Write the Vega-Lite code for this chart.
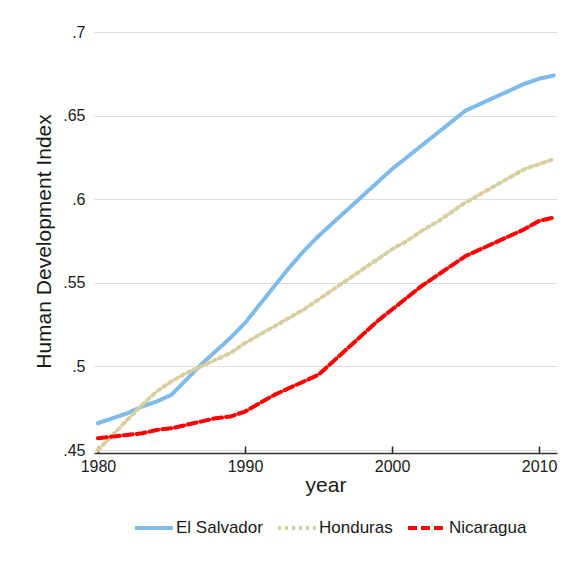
{
  "$schema": "https://vega.github.io/schema/vega-lite/v6.json",
  "width": 463,
  "height": 418,
  "autosize": {"type": "none"},
  "padding": {"left": 94, "top": 32, "right": 13, "bottom": 118},
  "background": "white",
  "config": {
    "view": {"stroke": null},
    "font": "Liberation Sans"
  },
  "data": {
    "values": [
      {"year":1980,"country":"El Salvador","hdi":0.466},{"year":1981,"country":"El Salvador","hdi":0.469},{"year":1982,"country":"El Salvador","hdi":0.472},{"year":1983,"country":"El Salvador","hdi":0.476},{"year":1984,"country":"El Salvador","hdi":0.479},{"year":1985,"country":"El Salvador","hdi":0.483},{"year":1986,"country":"El Salvador","hdi":0.492},{"year":1987,"country":"El Salvador","hdi":0.501},{"year":1988,"country":"El Salvador","hdi":0.509},{"year":1989,"country":"El Salvador","hdi":0.517},{"year":1990,"country":"El Salvador","hdi":0.526},{"year":1991,"country":"El Salvador","hdi":0.537},{"year":1992,"country":"El Salvador","hdi":0.548},{"year":1993,"country":"El Salvador","hdi":0.559},{"year":1994,"country":"El Salvador","hdi":0.569},{"year":1995,"country":"El Salvador","hdi":0.578},{"year":1996,"country":"El Salvador","hdi":0.586},{"year":1997,"country":"El Salvador","hdi":0.594},{"year":1998,"country":"El Salvador","hdi":0.602},{"year":1999,"country":"El Salvador","hdi":0.610},{"year":2000,"country":"El Salvador","hdi":0.618},{"year":2001,"country":"El Salvador","hdi":0.625},{"year":2002,"country":"El Salvador","hdi":0.632},{"year":2003,"country":"El Salvador","hdi":0.639},{"year":2004,"country":"El Salvador","hdi":0.646},{"year":2005,"country":"El Salvador","hdi":0.653},{"year":2006,"country":"El Salvador","hdi":0.657},{"year":2007,"country":"El Salvador","hdi":0.661},{"year":2008,"country":"El Salvador","hdi":0.665},{"year":2009,"country":"El Salvador","hdi":0.669},{"year":2010,"country":"El Salvador","hdi":0.672},{"year":2011,"country":"El Salvador","hdi":0.674},
      {"year":1980,"country":"Honduras","hdi":0.450},{"year":1981,"country":"Honduras","hdi":0.459},{"year":1982,"country":"Honduras","hdi":0.468},{"year":1983,"country":"Honduras","hdi":0.477},{"year":1984,"country":"Honduras","hdi":0.485},{"year":1985,"country":"Honduras","hdi":0.491},{"year":1986,"country":"Honduras","hdi":0.496},{"year":1987,"country":"Honduras","hdi":0.500},{"year":1988,"country":"Honduras","hdi":0.504},{"year":1989,"country":"Honduras","hdi":0.508},{"year":1990,"country":"Honduras","hdi":0.514},{"year":1991,"country":"Honduras","hdi":0.519},{"year":1992,"country":"Honduras","hdi":0.524},{"year":1993,"country":"Honduras","hdi":0.529},{"year":1994,"country":"Honduras","hdi":0.534},{"year":1995,"country":"Honduras","hdi":0.540},{"year":1996,"country":"Honduras","hdi":0.546},{"year":1997,"country":"Honduras","hdi":0.552},{"year":1998,"country":"Honduras","hdi":0.558},{"year":1999,"country":"Honduras","hdi":0.564},{"year":2000,"country":"Honduras","hdi":0.570},{"year":2001,"country":"Honduras","hdi":0.575},{"year":2002,"country":"Honduras","hdi":0.581},{"year":2003,"country":"Honduras","hdi":0.586},{"year":2004,"country":"Honduras","hdi":0.592},{"year":2005,"country":"Honduras","hdi":0.598},{"year":2006,"country":"Honduras","hdi":0.603},{"year":2007,"country":"Honduras","hdi":0.608},{"year":2008,"country":"Honduras","hdi":0.613},{"year":2009,"country":"Honduras","hdi":0.618},{"year":2010,"country":"Honduras","hdi":0.621},{"year":2011,"country":"Honduras","hdi":0.624},
      {"year":1980,"country":"Nicaragua","hdi":0.457},{"year":1981,"country":"Nicaragua","hdi":0.458},{"year":1982,"country":"Nicaragua","hdi":0.459},{"year":1983,"country":"Nicaragua","hdi":0.460},{"year":1984,"country":"Nicaragua","hdi":0.462},{"year":1985,"country":"Nicaragua","hdi":0.463},{"year":1986,"country":"Nicaragua","hdi":0.465},{"year":1987,"country":"Nicaragua","hdi":0.467},{"year":1988,"country":"Nicaragua","hdi":0.469},{"year":1989,"country":"Nicaragua","hdi":0.470},{"year":1990,"country":"Nicaragua","hdi":0.473},{"year":1991,"country":"Nicaragua","hdi":0.478},{"year":1992,"country":"Nicaragua","hdi":0.483},{"year":1993,"country":"Nicaragua","hdi":0.487},{"year":1994,"country":"Nicaragua","hdi":0.491},{"year":1995,"country":"Nicaragua","hdi":0.495},{"year":1996,"country":"Nicaragua","hdi":0.503},{"year":1997,"country":"Nicaragua","hdi":0.511},{"year":1998,"country":"Nicaragua","hdi":0.519},{"year":1999,"country":"Nicaragua","hdi":0.527},{"year":2000,"country":"Nicaragua","hdi":0.534},{"year":2001,"country":"Nicaragua","hdi":0.541},{"year":2002,"country":"Nicaragua","hdi":0.548},{"year":2003,"country":"Nicaragua","hdi":0.554},{"year":2004,"country":"Nicaragua","hdi":0.560},{"year":2005,"country":"Nicaragua","hdi":0.566},{"year":2006,"country":"Nicaragua","hdi":0.570},{"year":2007,"country":"Nicaragua","hdi":0.574},{"year":2008,"country":"Nicaragua","hdi":0.578},{"year":2009,"country":"Nicaragua","hdi":0.582},{"year":2010,"country":"Nicaragua","hdi":0.587},{"year":2011,"country":"Nicaragua","hdi":0.589}
    ]
  },
  "mark": {"type": "line", "strokeWidth": 4, "strokeCap": "round"},
  "encoding": {
    "x": {
      "field": "year", "type": "quantitative",
      "scale": {"domain": [1979.73, 2011.22], "nice": false, "zero": false},
      "axis": {
        "values": [1980, 1990, 2000, 2010],
        "format": "d",
        "grid": false,
        "offset": 3,
        "domainColor": "#333333",
        "domainWidth": 1.5,
        "ticks": true,
        "tickColor": "#222222",
        "tickSize": -7,
        "tickWidth": 1.5,
        "labelPadding": 12,
        "labelFontSize": 16,
        "labelColor": "#1a1a1a",
        "labelFont": "Liberation Sans",
        "title": "year",
        "titleFontSize": 21,
        "titleFontWeight": "normal",
        "titleColor": "#1a1a1a",
        "titlePadding": 0,
        "titleFont": "Liberation Sans"
      }
    },
    "y": {
      "field": "hdi", "type": "quantitative",
      "scale": {"domain": [0.45, 0.7], "nice": false, "zero": false},
      "axis": {
        "values": [0.45, 0.5, 0.55, 0.6, 0.65, 0.7],
        "labelExpr": "replace(format(datum.value, '.2~f'), '0.', '.')",
        "domain": false,
        "ticks": false,
        "grid": true,
        "gridColor": "#dddddd",
        "gridWidth": 1.2,
        "labelPadding": 9,
        "labelFontSize": 16,
        "labelColor": "#1a1a1a",
        "labelFont": "Liberation Sans",
        "title": "Human Development Index",
        "titleFontSize": 21,
        "titleFontWeight": "normal",
        "titleColor": "#1a1a1a",
        "titlePadding": 8,
        "titleFont": "Liberation Sans"
      }
    },
    "color": {
      "field": "country", "type": "nominal",
      "scale": {"domain": ["El Salvador", "Honduras", "Nicaragua"], "range": ["#7fbbe8", "#d8cfa0", "#ff0000"]},
      "legend": {
        "orient": "none",
        "legendX": 39,
        "legendY": 475,
        "direction": "horizontal",
        "title": null,
        "symbolType": "stroke",
        "symbolSize": 1444,
        "symbolStrokeWidth": 4,
        "labelFontSize": 17,
        "labelColor": "#1a1a1a",
        "labelFont": "Liberation Sans",
        "labelOffset": 1,
        "columnPadding": 7
      }
    },
    "strokeDash": {
      "field": "country", "type": "nominal",
      "scale": {"domain": ["El Salvador", "Honduras", "Nicaragua"], "range": [[1, 0], [3, 4], [9, 4]]},
      "legend": null
    }
  }
}
